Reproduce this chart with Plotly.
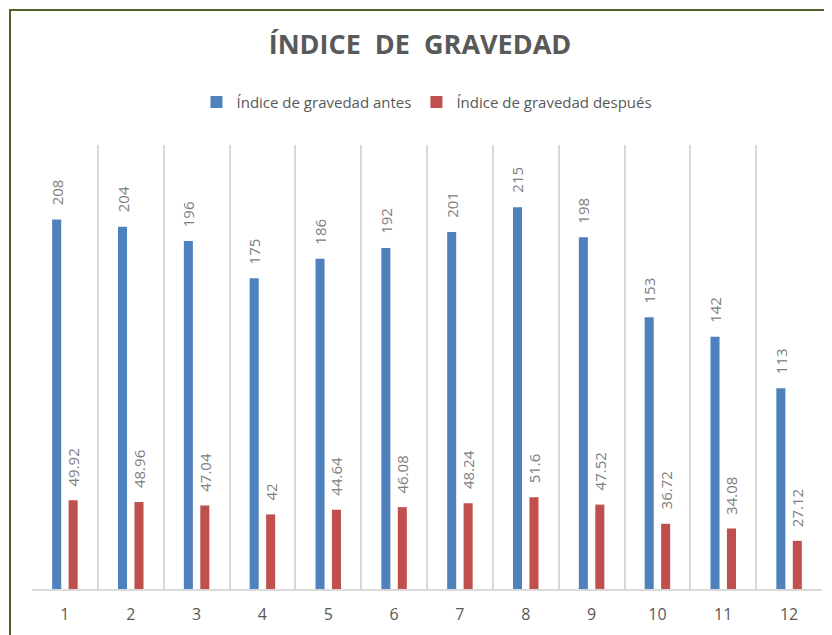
import plotly.graph_objects as go

categories = [1, 2, 3, 4, 5, 6, 7, 8, 9, 10, 11, 12]
tick_labels = ["1", "2", "3", "4", "5", "6", "7", "8", "9", "10", "11", "12"]
antes = [208, 204, 196, 175, 186, 192, 201, 215, 198, 153, 142, 113]
despues = [49.92, 48.96, 47.04, 42, 44.64, 46.08, 48.24, 51.6, 47.52, 36.72, 34.08, 27.12]
label_antes = ["208", "204", "196", "175", "186", "192", "201", "215", "198", "153", "142", "113"]
label_despues = ["49.92", "48.96", "47.04", "42", "44.64", "46.08", "48.24", "51.6", "47.52", "36.72", "34.08", "27.12"]

BLUE = "#4F81BD"
RED = "#C0504D"
GRID = "#D9D9D9"
TXT = "#595959"
LBL = "#808080"
FONT = "Open Sans"

# page has an 8px body margin; figure sized to fit the window
OFF = 8
W, H = 832 - OFF, 635 - OFF
ML, MR, MT, MB = 32 - OFF, 10, 145 - OFF, 44
PW = W - ML - MR
PH = H - MT - MB
BARGAP = 0.5
BARGROUPGAP = 0.45

fig = go.Figure()
fig.add_trace(go.Bar(x=categories, y=antes, name="Índice de gravedad antes",
                     marker=dict(color=BLUE, line=dict(width=0))))
fig.add_trace(go.Bar(x=categories, y=despues, name="Índice de gravedad después",
                     marker=dict(color=RED, line=dict(width=0))))

off = (1 - BARGAP) / 4
annotations = []
for c, v, t in zip(categories, antes, label_antes):
    annotations.append(dict(x=c - off, y=v, text=t, showarrow=False, textangle=-90,
                            xanchor="center", yanchor="bottom", yshift=12,
                            font=dict(family=FONT, size=15, color=LBL)))
for c, v, t in zip(categories, despues, label_despues):
    annotations.append(dict(x=c + off, y=v, text=t, showarrow=False, textangle=-90,
                            xanchor="center", yanchor="bottom", yshift=12,
                            font=dict(family=FONT, size=15, color=LBL)))

def px_x(p):
    return (p - OFF - ML) / PW

def px_y(p):
    return (H - MB - (p - OFF)) / PH

fig.update_layout(
    width=W, height=H,
    margin=dict(l=ML, r=MR, t=MT, b=MB),
    paper_bgcolor="white", plot_bgcolor="white",
    barmode="group", bargap=BARGAP, bargroupgap=BARGROUPGAP,
    title=dict(text="<b>ÍNDICE  DE  GRAVEDAD</b>", x=0.5, xanchor="center",
               y=1 - (45 - OFF) / H, yanchor="middle",
               font=dict(family=FONT, size=27, color=TXT)),
    legend=dict(orientation="h", x=0.5, xanchor="center", y=px_y(102), yanchor="middle",
                font=dict(family=FONT, size=15, color=TXT), itemwidth=30,
                traceorder="normal"),
    xaxis=dict(range=[0.5, 12.5], tickmode="array", tickvals=categories, ticktext=tick_labels,
               showgrid=False, zeroline=False, showline=True, linecolor=GRID, linewidth=1.5,
               ticks="", ticklabelstandoff=10, tickfont=dict(family=FONT, size=16, color=TXT),
               minor=dict(tick0=0.5, dtick=1, showgrid=True, gridcolor=GRID, gridwidth=1.5)),
    yaxis=dict(range=[0, 250], visible=False, showgrid=False, zeroline=False),
    annotations=annotations,
    shapes=[dict(type="rect", xref="paper", yref="paper",
                 x0=px_x(10), x1=px_x(832 + 20), y0=px_y(635 + 20), y1=px_y(9.5),
                 line=dict(color="#4F6228", width=2), fillcolor="rgba(0,0,0,0)", layer="above")],
)

fig.write_html("out.html")
